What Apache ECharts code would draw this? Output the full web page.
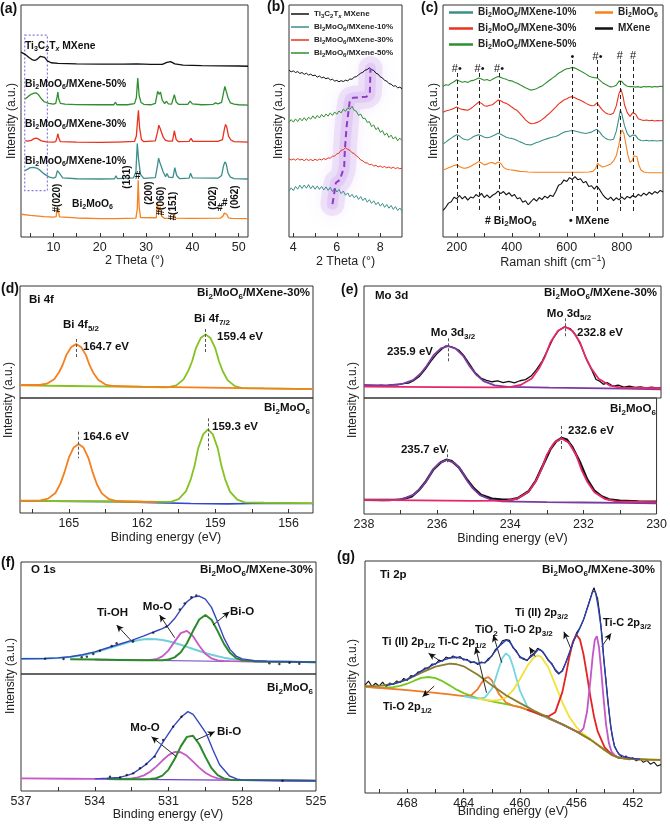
<!DOCTYPE html>
<html>
<head>
<meta charset="utf-8">
<script src="https://cdn.jsdelivr.net/npm/echarts@6.0.0/dist/echarts.min.js"></script>
<style>
  html, body { margin: 0; padding: 0; background: #fff; }
  #chart { width: 670px; height: 824px; }
</style>
</head>
<body>
<div id="chart"></div>
<script>
const FONT = '"Liberation Sans", Arial, Helvetica, sans-serif';

// ---------- (a) XRD patterns (2θ, offset intensity) ----------
const xrdMXene = [[3,79.7],[4,78.6],[4.8,77.3],[5.5,76.3],[6,76.1],[6.6,76.8],[7.2,77.9],[7.6,78.2],[8.1,77.4],[8.7,75.9],[9.5,75.1],[11,74.8],[15,74.6],[20,74.5],[25,74.5],[28,74.6],[31,74.4],[33.5,74.4],[34.5,75.3],[35.3,75.6],[36.2,74.6],[38,74.1],[42,73.9],[46,73.8],[50,73.7],[52,73.6]];
const xrd50 = [[3.9,59.5],[4.5,60.5],[5.2,61.5],[5.8,62.0],[6.3,62.1],[6.8,61.3],[7.3,59.8],[8,58.3],[9,57.6],[10,57.3],[10.5,57.6],[10.8,60.5],[10.95,62.5],[11.15,59.5],[11.5,57.6],[12.5,57.3],[15,57.1],[20,57.0],[23,57],[23.4,58.1],[23.7,57],[26,57],[27.5,57.5],[27.9,60],[28.2,68.5],[28.5,61],[28.9,58],[29.5,57.2],[31,57],[32,57.6],[32.5,62.8],[32.8,61.5],[33.1,62.5],[33.5,59],[34,57.5],[34.4,58.5],[34.8,57.4],[35.5,57.3],[36.1,61.3],[36.5,58.2],[37,57.2],[39,57.2],[39.5,58.6],[40,57.4],[42,57],[44.5,57.2],[45,57.8],[45.5,57.4],[46.3,58],[46.7,62],[47,64.9],[47.3,64.2],[47.7,60],[48.2,57.8],[48.6,58.3],[49,57.3],[50,57],[52,56.8]];
const xrd30 = [[3.9,41.5],[4.5,41.3],[5.2,41.6],[5.8,42.4],[6.3,42.6],[6.8,42.2],[7.4,41.4],[8.5,41],[10,40.9],[10.5,41.1],[10.8,43],[10.95,44.5],[11.15,42.8],[11.5,41.1],[15,40.9],[20,40.8],[23.2,40.9],[23.5,41.6],[23.8,40.9],[27.5,41.2],[27.9,43.5],[28.15,50],[28.35,54.6],[28.6,47],[29,42],[29.5,41.1],[32,41.4],[32.5,45.5],[32.75,48.2],[33.0,47],[33.3,47.3],[33.7,43],[34.2,41.6],[34.5,42.3],[34.9,41.3],[35.7,41.3],[36.1,45.8],[36.5,42],[37,41.1],[39.3,41.2],[39.7,42.5],[40.1,41.2],[44.7,41.2],[45.1,41.8],[45.5,41.2],[46.5,42],[46.9,46.5],[47.15,48.5],[47.4,47.5],[47.8,43.5],[48.3,41.8],[48.6,42.2],[49,41.1],[52,40.9]];
const xrd10 = [[3.9,28.6],[4.3,29.4],[5,29.9],[5.8,30.0],[6.5,29.6],[7.2,28.6],[8,27.2],[9,25.9],[10,25.4],[10.5,25.8],[10.85,28.6],[11.1,29.3],[11.4,27.2],[12,25.5],[15,25.1],[20,25],[23.2,25.1],[23.5,26.4],[23.8,25.2],[27.3,25.5],[27.8,28],[28.1,40.3],[28.4,33],[28.8,27],[29.5,25.3],[32,25.6],[32.5,31.2],[32.7,34],[33.0,32],[33.3,32.6],[33.7,28],[34.2,26],[34.5,27.4],[34.9,25.8],[35.8,25.6],[36.2,29.9],[36.6,26.5],[37.2,25.2],[39.3,25.4],[39.6,27.5],[40,25.5],[44.8,25.4],[45.2,26],[45.6,25.4],[46.3,26.5],[46.7,30.5],[47.0,32.4],[47.3,31.5],[47.7,27.5],[48.2,25.8],[48.6,26.2],[49,25.2],[52,25]];
const xrdBMO = [[3,9.8],[5,9.3],[8,8.8],[10,8.6],[10.6,8.8],[10.85,13.1],[11.05,11.5],[11.3,8.7],[15,8.2],[20,7.9],[23.5,7.9],[27.8,8.1],[28.1,12],[28.3,24.5],[28.5,13],[28.8,8.4],[32.2,8.3],[32.45,14.9],[32.7,10.8],[33.05,13.1],[33.35,9],[34,8],[35.8,8.1],[36.05,10.1],[36.3,8.1],[39.5,8],[46,8.1],[46.6,9],[46.9,10.3],[47.1,10.6],[47.4,9.8],[47.8,8.2],[48.5,8],[52,7.9]];

// ---------- (b) low-angle XRD ----------
const lowX = [3.8,3.9,4.0,4.1,4.2,4.3,4.4,4.5,4.6,4.7,4.8,4.9,5.0,5.1,5.2,5.3,5.4,5.5,5.6,5.7,5.8,5.9,6.0,6.1,6.2,6.3,6.4,6.5,6.6,6.7,6.8,6.9,7.0,7.1,7.2,7.3,7.4,7.5,7.6,7.7,7.8,7.9,8.0,8.1,8.2,8.3,8.4,8.5,8.6,8.7,8.8,8.9,9.0];
const lowMXene = [71.9,71.2,71.6,70.9,71.3,70.5,70.9,70.1,70.6,69.8,70.2,69.5,69.8,68.9,69.4,68.6,68.9,68.2,68.6,67.7,68.0,67.2,67.5,66.9,67.4,67.0,67.6,67.3,68.1,68.0,68.9,69.1,69.9,70.6,71.0,71.9,72.2,72.9,72.1,71.8,70.6,70.2,69.0,68.6,67.5,67.2,66.1,65.9,65.0,65.2,64.3,64.6,63.9];
const low50 = [49.4,50.6,49.5,50.9,49.8,51.2,50.1,51.4,50.2,51.6,50.8,52.2,51.0,52.4,51.3,52.8,51.7,53.0,52.1,53.5,52.4,53.9,52.9,54.3,53.5,55.1,54.2,55.6,55.0,56.3,54.6,54.2,52.4,53.0,51.1,51.2,49.4,49.7,47.6,48.3,46.3,47.2,45.1,45.9,43.9,44.8,42.9,43.9,42.2,43.2,41.5,42.6,41.6];
const low30 = [33.7,33.2,33.6,33.1,33.8,33.2,33.5,32.9,33.6,33.0,33.4,32.9,33.5,33.0,33.6,33.2,33.8,33.4,34.1,34.0,34.8,34.9,35.8,36.1,37.4,37.6,38.5,37.8,37.4,36.3,36.0,34.9,34.3,33.2,32.8,32.0,31.9,31.2,31.3,30.6,30.9,30.2,30.6,30.0,30.4,29.8,30.2,29.6,30.1,29.5,29.9,29.4,29.7];
const low10 = [19.8,21.2,20.0,21.8,20.6,22.3,20.9,22.4,21.0,22.6,20.8,22.1,20.6,22.0,20.5,21.8,20.3,21.6,20.1,21.4,19.6,21.0,19.4,20.5,18.7,19.8,18.0,19.0,17.3,18.4,16.9,17.9,16.2,17.4,15.7,16.8,15.0,16.1,14.5,15.6,13.9,15.0,13.3,14.5,12.8,14.0,12.4,13.6,11.9,13.1,11.4,12.5,11.2];
const shiftPath = [[5.8,14.2],[5.96,23.4],[6.14,24.6],[6.34,30.3],[6.37,37.5],[6.45,47.5],[6.6,59],[6.75,60],[7.37,60.5],[7.52,62],[7.55,72.7]];

// ---------- (c) Raman ----------
const ramMXene = [[150,11.5],[160,12.8],[170,14.6],[180,15.2],[190,17.1],[200,16.5],[210,17.9],[220,16.4],[230,17.5],[240,15.9],[250,17.2],[260,16.8],[270,18.3],[280,17.4],[290,18.8],[300,17.0],[310,18.2],[320,16.9],[330,18.0],[340,18.6],[350,19.8],[360,18.7],[370,19.6],[380,18.2],[390,19.1],[400,17.6],[410,18.3],[420,16.5],[430,16.9],[440,15.0],[450,15.6],[460,13.9],[470,15.2],[480,16.6],[490,15.5],[500,17.0],[510,16.1],[520,17.6],[530,16.8],[540,18.0],[550,17.5],[560,19.6],[570,22.3],[580,22.9],[590,24.6],[600,23.9],[610,25.6],[620,24.8],[630,26.0],[640,24.7],[650,25.1],[660,23.4],[670,23.9],[680,21.8],[690,22.1],[700,20.6],[710,22.0],[720,20.3],[730,18.4],[740,17.0],[750,16.1],[760,17.2],[770,15.7],[780,16.9],[790,16.0],[800,17.3],[810,16.2],[820,17.5],[830,16.8],[840,17.9],[850,17.1],[860,18.4],[870,17.6],[880,18.9],[890,18.0],[900,19.3],[910,18.4],[920,19.6],[930,18.9],[940,20.1],[950,19.4]];
const ram50 = [[150,65.0],[160,65.6],[170,65.4],[180,66.3],[190,66.9],[200,67.8],[210,67.2],[220,66.7],[230,67.0],[240,66.6],[250,67.3],[260,67.5],[270,68.0],[280,68.5],[290,68.1],[300,67.6],[310,67.9],[320,67.3],[330,68.0],[340,68.6],[350,69.2],[360,68.8],[370,68.3],[380,68.0],[390,67.4],[400,67.3],[410,66.7],[420,66.3],[430,65.6],[440,65.0],[450,64.3],[460,63.8],[470,63.3],[480,63.6],[490,63.9],[500,64.6],[510,65.1],[520,66.0],[530,66.9],[540,67.8],[550,68.7],[560,69.5],[570,70.6],[580,71.2],[590,72.0],[600,72.5],[610,72.7],[620,73.1],[630,72.8],[640,72.2],[650,71.6],[660,70.9],[670,70.2],[680,69.4],[690,69.0],[700,68.7],[710,68.6],[720,67.6],[730,66.5],[740,65.8],[750,65.2],[760,64.7],[770,64.9],[780,65.4],[790,67.2],[795,67.8],[800,67.1],[810,65.7],[820,65.0],[830,64.8],[840,64.9],[850,64.6],[860,64.8],[870,64.5],[880,64.9],[890,64.7],[900,64.9],[910,64.6],[920,64.9],[930,64.7],[940,65.0],[950,64.8]];
const ram30 = [[150,53.8],[160,54.3],[170,54.6],[180,55.0],[190,55.5],[200,56.0],[210,55.4],[220,55.0],[230,54.8],[240,54.6],[250,55.3],[260,56.2],[270,57.2],[280,58.2],[290,57.6],[300,56.6],[310,56.4],[320,56.8],[330,57.0],[340,58.0],[350,59.0],[360,58.7],[370,58.0],[380,57.6],[390,56.9],[400,56.0],[410,55.2],[420,54.5],[430,53.2],[440,51.9],[450,50.5],[460,49.5],[470,48.8],[480,48.9],[490,49.3],[500,49.8],[510,50.6],[520,51.5],[530,52.6],[540,53.6],[550,54.8],[560,56.0],[570,57.3],[580,58.2],[590,59.1],[600,59.6],[610,60.2],[620,60.5],[630,60.0],[640,59.4],[650,58.9],[660,58.3],[670,57.6],[680,57.0],[690,56.6],[700,56.7],[710,57.8],[715,57.6],[720,56.2],[730,54.7],[740,53.6],[750,53.0],[760,52.8],[770,53.4],[780,56.5],[790,61.8],[797,63.7],[805,60.4],[810,57.0],[820,53.6],[830,52.0],[840,53.6],[845,54.2],[850,53.0],[860,51.0],[870,50.5],[880,50.2],[890,50.4],[900,50.1],[910,50.3],[920,50.0],[930,50.2],[940,50.1],[950,50.2]];
const ram10 = [[150,40.1],[160,40.9],[170,41.8],[180,42.6],[190,43.4],[200,44.1],[210,43.5],[220,42.5],[230,42.0],[240,41.8],[250,42.4],[260,43.2],[270,43.7],[280,44.1],[290,43.6],[300,43.0],[310,42.8],[320,43.0],[330,43.5],[340,44.1],[350,44.7],[360,44.3],[370,43.6],[380,43.0],[390,42.7],[400,42.5],[410,42.1],[420,41.6],[430,41.0],[440,40.5],[450,40.0],[460,39.8],[470,39.7],[480,40.2],[490,40.7],[500,41.1],[510,41.6],[520,42.0],[530,42.4],[540,42.8],[550,43.1],[560,43.3],[570,43.9],[580,44.6],[590,45.2],[600,45.5],[610,45.7],[620,45.9],[630,45.7],[640,45.4],[650,45.0],[660,44.8],[670,44.6],[680,44.9],[690,45.2],[700,45.9],[710,46.4],[720,45.2],[730,43.6],[740,42.6],[750,42.0],[760,41.8],[770,42.1],[780,45.5],[790,51.5],[795,54.7],[800,53.2],[810,48.0],[820,44.6],[830,43.2],[840,44.0],[845,44.6],[850,43.8],[860,42.2],[870,41.6],[880,41.5],[890,41.7],[900,41.4],[910,41.6],[920,41.5],[930,41.4],[940,41.6],[950,41.5]];
const ramBMO = [[150,28.9],[160,29.3],[170,29.8],[180,30.3],[190,30.8],[200,31.1],[210,30.4],[220,29.8],[230,29.6],[240,29.9],[250,30.4],[260,31.1],[270,31.8],[280,32.5],[290,31.9],[300,31.1],[310,31.4],[320,32.0],[325,32.3],[330,32.1],[340,31.5],[350,32.3],[355,32.6],[360,31.8],[370,30.0],[380,29.3],[390,29.0],[400,28.9],[410,28.7],[420,28.5],[430,28.3],[440,28.2],[450,28.1],[460,28.0],[480,27.9],[500,27.9],[550,27.9],[600,27.9],[650,27.9],[680,28.0],[695,28.3],[705,29.5],[712,31.8],[720,30.9],[730,30.2],[740,30.5],[750,30.9],[760,31.5],[770,32.8],[780,35.0],[790,40.0],[797,45.0],[802,46.1],[808,44.5],[815,40.0],[822,35.5],[830,32.2],[838,32.9],[845,35.0],[850,35.3],[855,34.6],[862,31.0],[870,28.9],[880,28.0],[890,27.8],[900,27.7],[920,27.7],[950,27.7]];

// ---------- (d) Bi 4f ----------
const bi30_f52 = [[167,11.6],[166.2,11.6],[165.9,12.8],[165.6,16.8],[165.4,23],[165.25,29.7],[165.1,38.5],[164.9,45.6],[164.7,48.1],[164.5,45.5],[164.3,38.3],[164.15,29.3],[164.0,22.6],[163.8,16.2],[163.5,12.0],[163.2,10.7],[162,10.1],[160,9.5],[158,8.9],[155,8.0]];
const bi30_f72 = [[167,11.3],[165,10.7],[163,10.1],[161,9.5],[160.9,9.8],[160.6,11.3],[160.3,16.6],[160.1,24.7],[159.95,32.8],[159.8,44.3],[159.6,53.5],[159.4,56.8],[159.2,53.5],[159.0,44.3],[158.85,32.8],[158.7,24.1],[158.5,16.0],[158.2,10.6],[157.9,8.9],[157,8.6],[155,8.0]];
const bi0_f52 = [[167,10.7],[166.2,10.8],[165.85,12.5],[165.55,17.4],[165.35,25.3],[165.18,35.3],[165.0,48.1],[164.8,57],[164.6,60],[164.4,56.9],[164.2,48],[164.02,35.1],[163.85,25],[163.65,17.1],[163.35,12],[163.0,10.2],[162,9.8],[161.4,9.7]];
const bi0_f72 = [[167,10.6],[163,10.0],[161,9.62],[160.8,9.9],[160.5,12],[160.2,19],[160.0,29.7],[159.85,41.2],[159.7,56.4],[159.5,68.4],[159.3,72.8],[159.1,68.3],[158.9,56.2],[158.75,41],[158.6,29.5],[158.4,18.6],[158.1,11.6],[157.8,9.3],[157,8.9],[155,8.5]];
const bi0_bg = [[167,10.4],[163,9.9],[161.5,9.0],[160,8.3],[158.5,7.9],[157.5,8.2],[155,8.2]];

// ---------- (e) Mo 3d ----------
const mo30_raw = [[238,10.5],[237.85,10.9],[237.7,10.6],[237.55,11.4],[237.4,11.1],[237.25,12.0],[237.1,11.7],[236.95,12.9],[236.8,13.3],[236.65,15.8],[236.5,19.5],[236.35,25.5],[236.2,32.8],[236.05,39],[235.9,43.8],[235.8,46.5],[235.7,46],[235.6,45.2],[235.45,42.8],[235.3,37.5],[235.15,30],[235.0,22.5],[234.85,17.8],[234.7,15.8],[234.55,14.5],[234.4,15.2],[234.25,13.8],[234.1,14.8],[233.95,13.6],[233.8,15.4],[233.65,16.4],[233.5,19.6],[233.35,25.5],[233.2,33],[233.05,43],[232.9,53.5],[232.75,60.5],[232.6,63.5],[232.45,62],[232.3,56.5],[232.15,46.5],[232.0,34],[231.85,24],[231.75,16.5],[231.65,15],[231.55,12.2],[231.45,13.8],[231.3,10.6],[231.15,11.5],[231.0,9.8],[230.85,10.6],[230.7,9.5],[230.55,9.9],[230.4,9.1],[230.25,9.6],[230.1,8.9],[230,9.3]];
const mo30_d32 = [[238,11.6],[237.5,11.36],[237.3,11.5],[236.98,12.5],[236.68,16.0],[236.48,21.7],[236.31,28.8],[236.13,38.0],[235.93,44.3],[235.73,46.4],[235.53,44.1],[235.33,37.6],[235.15,28.2],[234.98,20.9],[234.78,15.0],[234.48,11.3],[234.13,9.9],[233,9.2],[232,8.75],[231,8.3],[230,7.8]];
const mo30_d52 = [[238,10.1],[236,9.75],[234.5,9.5],[234.08,9.7],[233.78,11.6],[233.48,17.5],[233.28,26.8],[233.13,36.5],[232.98,49.6],[232.78,59.9],[232.58,63.7],[232.38,59.8],[232.18,49.5],[232.03,36.4],[231.88,26.5],[231.68,17.2],[231.38,11.1],[231.08,9.2],[230,8.7]];
const mo0_raw = [[238,12.2],[237.5,12.1],[237,12.4],[236.7,15],[236.5,20.5],[236.3,28.5],[236.1,38.5],[235.9,44.5],[235.75,46.8],[235.6,45.5],[235.4,40],[235.2,30.5],[235.0,22.3],[234.8,16.5],[234.5,13.2],[234.2,12.4],[234,12.3],[233.8,13.6],[233.5,19.5],[233.3,28.8],[233.1,42.5],[232.9,56],[232.75,62.5],[232.6,65.6],[232.45,64],[232.3,57.5],[232.1,45],[231.9,30],[231.7,20],[231.5,15.2],[231.3,12.6],[231,11.5],[230.5,10.9],[230,10.5]];
const mo0_d32 = [[238,12.1],[237.3,11.85],[237.23,12.0],[236.93,13.1],[236.63,16.9],[236.43,22.8],[236.28,29.1],[236.13,37.5],[235.93,44.2],[235.73,46.6],[235.53,44.0],[235.33,37.2],[235.18,28.7],[235.03,22.3],[234.83,16.3],[234.53,12.3],[234.23,10.9],[233,10.3],[232,9.9],[231,9.55],[230,9.2]];
const mo0_d52 = [[238,12.1],[235,11.4],[234.1,11.5],[233.8,13.3],[233.5,19.2],[233.3,28.4],[233.15,38.2],[233.0,51.2],[232.8,61.5],[232.6,65.2],[232.4,61.4],[232.2,51.0],[232.05,37.9],[231.9,28.1],[231.7,18.8],[231.4,12.8],[231.1,10.8],[230,10.3]];

// ---------- (f) O 1s ----------
const o30_tioh = [[537,13.65],[536,13.8],[535.5,14.2],[535,15.1],[534.5,16.7],[534,19.2],[533.5,22.4],[533,25.9],[532.5,29.1],[532,31],[531.75,31.3],[531.5,31],[531.25,30.4],[531,29.2],[530.75,27.7],[530.5,26.1],[530.25,24.2],[530,22.3],[529.75,20.5],[529.5,18.7],[529.25,17.2],[529,15.8],[528.75,14.6],[528.5,13.7],[528.25,13],[528,12.4],[527.5,11.7],[527,11.3],[526,10.9],[525,10.6]];
const o30_moo = [[534,12.85],[533,12.6],[532.5,12.48],[532,12.4],[531.75,12.5],[531.5,13.2],[531.25,15.7],[531,20.9],[530.75,28.9],[530.5,36.5],[530.25,38.5],[530,33.7],[529.75,25.2],[529.5,18],[529.25,13.9],[529,12.2],[528.75,11.6],[528.5,11.5],[528,11.35],[527,11.1],[526,10.85],[525,10.6]];
const o30_bio = [[535,13.1],[534,12.85],[533,12.6],[532,12.35],[531.5,12.27],[531.25,12.36],[531,13],[530.75,14.84],[530.5,19.4],[530.25,27.5],[530,38.55],[529.75,48.6],[529.5,52.7],[529.25,48.5],[529,38.3],[528.75,27.1],[528.5,18.9],[528.25,14.2],[528,12.25],[527.5,11.27],[527,11.1],[526,10.85],[525,10.6]];
const o30_env = [[537,13.6],[536,13.9],[535.5,14.4],[535,15.4],[534.5,17.2],[534,19.8],[533.5,23.2],[533,26.6],[532.5,30.0],[532,34.0],[531.75,36.3],[531.5,38.4],[531.25,40.5],[531,43.5],[530.75,49.5],[530.5,57.5],[530.25,64.5],[530,68.6],[529.75,69.6],[529.5,66.8],[529.25,59.5],[529,46.5],[528.75,32.5],[528.5,22],[528.25,16],[528,13.5],[527.5,11.8],[527,11.3],[526,10.9],[525,10.6]];
const o30_bg = [[533,12.5],[529,11.4],[525,10.3]];
const o30_raw = [[536.02,13.7],[535.27,13.4],[534.53,14.9],[534.32,15.5],[534.06,17.9],[533.79,20.8],[533.31,25],[533.11,27.4],[532.44,29.2],[531.62,36.9],[531.08,42.3],[530.54,57.7],[530.34,63.1],[530.07,68.5],[529.87,70.2],[526.9,9.5],[526.49,8.9],[526.08,10.1],[525.68,9.2]];
const o0_moo = [[537,10.8],[535,10.47],[534,10.3],[533.5,10.22],[533,10.2],[532.5,10.68],[532.25,11.56],[532,13.37],[531.75,16.42],[531.5,20.88],[531.25,26.03],[531,30.7],[530.75,33.35],[530.5,33.12],[530.25,30.07],[530,25.13],[529.75,19.98],[529.5,15.65],[529.25,12.6],[529,10.87],[528.75,9.98],[528.5,9.57],[528.25,9.38],[528,9.31],[527.5,9.22],[527,9.13],[526,8.97],[525,8.8]];
const o0_bio = [[533.5,10.22],[533,10.13],[532.5,10.05],[532,10.02],[531.75,10.17],[531.5,10.88],[531.25,13.13],[531,18.3],[530.75,27.25],[530.5,38.12],[530.25,46.27],[530,47.13],[529.75,39.98],[529.5,29.15],[529.25,19.5],[529,13.53],[528.75,10.72],[528.5,9.71],[528.25,9.4],[528,9.31],[527.5,9.22],[527,9.13],[526,8.97],[525,8.8]];
const o0_env = [[534,10.4],[533.5,10.9],[533,11.6],[532.7,13.2],[532.44,15.1],[532.16,19],[531.9,23],[531.56,30],[531.22,42],[530.81,55],[530.47,63.5],[530.21,67.8],[530,65.5],[529.75,58],[529.46,49],[529.19,35],[528.92,22.5],[528.52,12.8],[528.2,10.2],[528,9.5],[527,9.1],[526,8.95],[525,8.8]];
const o0_bg = [[533.5,10.1],[525,8.6]];
const o0_raw = [[533.38,12.2],[532.97,11.6],[532.7,13.7],[532.44,15.1],[532.16,19.4],[531.9,23.1],[531.56,29.4],[531.22,43.6],[530.81,55],[530.47,63.5],[526.36,8.8]];

// ---------- (g) Ti 2p ----------
const ti_raw = [[471,46.5],[470.75,48.2],[470.5,45.9],[470.25,47.3],[470,46.1],[469.75,47.8],[469.5,45.8],[469.25,47.4],[469,46.8],[468.75,48.3],[468.5,47.6],[468.25,49.4],[468,48.5],[467.75,50.6],[467.5,50.2],[467.25,52.1],[467,52.3],[466.75,53.9],[466.5,53.8],[466.25,55.6],[466,55.5],[465.75,57.3],[465.5,56.8],[465.25,58.6],[465,58.0],[464.75,59.1],[464.5,58.2],[464.25,58.8],[464,57.3],[463.75,57.6],[463.5,56.1],[463.25,56.6],[463,55.4],[462.75,56.5],[462.5,56.0],[462.25,57.9],[462,59.0],[461.75,61.9],[461.5,63.0],[461.25,65.6],[461,66.1],[460.75,65.8],[460.5,62.6],[460.25,61.2],[460,58.3],[459.75,58.1],[459.5,57.0],[459.25,59.2],[459,60.1],[458.75,62.4],[458.5,61.5],[458.25,59.6],[458,57.1],[457.75,55.9],[457.5,52.8],[457.25,51.2],[457,52.9],[456.75,56.3],[456.5,60.1],[456.25,64.7],[456,68.9],[455.75,71.2],[455.5,74.6],[455.25,79.5],[455,84.2],[454.85,87.1],[454.75,88.5],[454.65,86.3],[454.5,83.9],[454.35,77.2],[454.2,68.5],[454.05,57.4],[453.9,48.6],[453.75,38.9],[453.6,30.2],[453.45,24.1],[453.3,20.4],[453.1,17.8],[452.9,16.2],[452.7,15.1],[452.5,16.0],[452.25,14.3],[452,15.2],[451.75,13.9],[451.5,14.8],[451.25,13.2],[451,14.1],[450.75,12.4],[450.5,13.3],[450.25,11.6],[450,12.3]];
const ti_env = [[469.5,46.4],[469,47.0],[468.5,47.9],[468,49.0],[467.5,50.7],[467,52.6],[466.5,54.2],[466,55.8],[465.5,57.2],[465,58.2],[464.5,58.5],[464,57.8],[463.5,56.6],[463,55.9],[462.5,56.3],[462.25,57.3],[462,59.2],[461.5,63.2],[461,65.9],[460.75,65.2],[460.5,63.0],[460.25,60.7],[460,58.8],[459.75,57.6],[459.5,57.3],[459,59.8],[458.7,61.9],[458.4,61.0],[458,57.5],[457.75,55.5],[457.5,53.3],[457.25,51.6],[457,52.5],[456.77,55.9],[456.5,60.5],[456.17,65.9],[455.8,70.5],[455.46,75.3],[455.15,81.0],[454.85,86.8],[454.65,86.8],[454.45,80.0],[454.26,71.7],[454.05,57.0],[453.78,40.1],[453.55,28.0],[453.3,20.0],[453,16.8],[452.59,15.6],[452,14.9],[451.5,14.6]];
const ti_o12 = [[471,45.8],[470,45.4],[469,45.6],[468.5,46.15],[468,47.1],[467.5,48.4],[467,49.6],[466.5,50.0],[466,49.5],[465.5,48.2],[465,46.4],[464.5,44.55],[464,43.04],[463,40.85],[462,39.5],[461,38.3],[460,37.0],[459,34.8],[458,32.3],[457,29.6],[456,26.5],[455,23.0],[454,18.5],[453,15.2],[452,14.6],[450,14.3]];
const ti_ii12 = [[471,46.1],[470,46.2],[469,47.05],[468,48.95],[467,51.86],[466,54.5],[465,55.74],[464.5,55.5],[464,54.6],[463,51.0],[462,46.4],[461,42.1],[460,38.74],[459,35.46],[458,32.5],[457,29.65],[456,26.5],[455,23.0],[454.5,20.8],[454,18.5],[453.5,16.4],[453,15.2],[452,14.6],[451,14.4],[450,14.3]];
const ti_c12 = [[471,45.8],[468,44.3],[466,43.2],[465,42.5],[464,41.77],[463.5,41.97],[463,44.8],[462.75,47.25],[462.5,49.39],[462.25,49.98],[462,48.5],[461.75,45.7],[461.5,42.7],[461,38.99],[460.5,37.7],[460,37.0],[459,34.8],[458,32.3],[457,29.6],[456,26.5],[455,23.0],[454,18.5],[453,15.2],[452,14.6],[450,14.3]];
const ti_tio2 = [[464,41.7],[463.5,41.15],[463,40.7],[462.5,41.1],[462,44.95],[461.75,49.0],[461.5,53.9],[461.25,58.2],[461,60.2],[460.75,58.9],[460.5,54.65],[460.25,49.1],[460,44.0],[459.5,37.44],[459,34.98],[458.5,33.55],[458,32.3],[457,29.6]];
const ti_o32 = [[463,40.6],[462,39.83],[461.5,39.98],[461,41.22],[460.5,44.2],[460,49.15],[459.5,54.6],[459,58.6],[458.75,59.2],[458.5,58.65],[458,54.2],[457.5,46.75],[457,39.1],[456.5,32.75],[456,28.43],[455.5,25.4],[455,23.18],[454.5,20.85],[454,18.5],[453.5,16.4],[453,15.2]];
const ti_ii32 = [[459.5,35.9],[459,34.8],[458.5,33.62],[458,32.98],[457.5,34.85],[457,43.5],[456.75,50.7],[456.5,58.75],[456.25,65.26],[456,68.2],[455.75,66.2],[455.5,59.85],[455.25,50.8],[455,41.2],[454.75,32.9],[454.5,26.66],[454,19.67],[453.5,16.54],[453,15.2],[452.5,14.9],[452,14.6],[451.5,14.5]];
const ti_c32 = [[458,32.3],[457,29.6],[456.5,28.05],[456,26.58],[455.75,26.2],[455.5,27.85],[455.25,34.9],[455,49.1],[454.85,58.8],[454.7,65.9],[454.55,67.6],[454.4,62.9],[454.25,53.4],[454.1,42.4],[453.9,29.6],[453.7,21.6],[453.5,17.7],[453.25,16.0],[453,15.2],[452.5,14.9]];

// ---------- styling helpers ----------
const COL = { black:'#111', green:'#2f8f2f', red:'#e8321e', teal:'#3c8f8c', orange:'#f5821f' };

function rich(sz, bold, color) {
  const w = bold ? 'bold' : 'normal';
  const c = color || '#111';
  const sub = Math.round(sz * 0.72);
  return {
    s:  { fontSize: sub, fontWeight: w, fontFamily: FONT, fill: c, color: c, verticalAlign: 'bottom', lineHeight: sub + 1 },
    si: { fontSize: sub, fontWeight: w, fontStyle: 'italic', fontFamily: FONT, fill: c, color: c, verticalAlign: 'bottom', lineHeight: sub + 1 },
    p:  { fontSize: sub, fontWeight: w, fontFamily: FONT, fill: c, color: c, verticalAlign: 'top', lineHeight: sub + 1 }
  };
}

function T(x, y, text, o) {
  o = o || {};
  const sz = o.size || 11.5;
  const bold = o.bold !== false;
  const c = o.color || '#111';
  return {
    type: 'text', x: x, y: y, rotation: o.rot || 0, silent: true, z: 100,
    style: {
      text: text, fill: c, fontSize: sz, fontWeight: bold ? 'bold' : 'normal', fontFamily: FONT,
      lineHeight: Math.round(sz * 1.35),
      align: o.align || 'left', textAlign: o.align || 'left',
      verticalAlign: 'middle', textVerticalAlign: 'middle',
      rich: rich(sz, bold, c)
    }
  };
}

function pairs(xs, ys) { return xs.map((x, i) => [x, ys[i]]); }

function L(xi, name, data, color, width, z, extra) {
  return Object.assign({
    type: 'line', name: name, xAxisIndex: xi, yAxisIndex: xi, data: data,
    symbol: 'none', showSymbol: false, silent: true,
    lineStyle: { color: color, width: width }, itemStyle: { color: color }, z: z || 2
  }, extra || {});
}

function ML(segs, line, arrow) {
  return {
    silent: true, symbol: arrow ? ['none', 'arrow'] : ['none', 'none'], symbolSize: [5, 7],
    label: { show: false }, emphasis: { disabled: true },
    lineStyle: Object.assign({ color: '#333', width: 1, type: 'solid' }, line),
    data: segs.map(s => [{ coord: s[0] }, { coord: s[1] }])
  };
}

// grids: a, b, c, d-top, d-bottom, e-top, e-bottom, f-top, f-bottom, g
const gridBoxes = [
  { left: 21,  top: 5,   width: 227, height: 232 },
  { left: 289, top: 5,   width: 113, height: 232 },
  { left: 443, top: 5,   width: 220, height: 232 },
  { left: 20,  top: 286, width: 293, height: 112 },
  { left: 20,  top: 398, width: 293, height: 115 },
  { left: 364, top: 286, width: 297, height: 112 },
  { left: 364, top: 398, width: 297, height: 116 },
  { left: 21,  top: 562, width: 295, height: 112 },
  { left: 21,  top: 674, width: 295, height: 117 },
  { left: 365, top: 561, width: 296, height: 232 }
];

const axisSpec = [
  { min: 3,   max: 52,  labels: [10,20,30,40,50], ticks: [5,10,15,20,25,30,35,40,45,50] },
  { min: 3.8, max: 9,   labels: [4,6,8], ticks: [4,5,6,7,8] },
  { min: 150, max: 950, labels: [200,400,600,800], ticks: [200,300,400,500,600,700,800,900] },
  { min: 155, max: 167, inverse: true },
  { min: 155, max: 167, inverse: true, labels: [165,162,159,156], ticks: [166.5,165,163.5,162,160.5,159,157.5,156] },
  { min: 230, max: 238, inverse: true },
  { min: 230, max: 238, inverse: true, labels: [238,236,234,232,230], ticks: [237,236,235,234,233,232,231] },
  { min: 525, max: 537, inverse: true },
  { min: 525, max: 537, inverse: true, labels: [537,534,531,528,525], ticks: [535.5,534,532.5,531,529.5,528,526.5] },
  { min: 450, max: 471, inverse: true, labels: [468,464,460,456,452], ticks: [470,468,466,464,462,460,458,456,454,452] }
];

const xAxes = axisSpec.map((a, i) => ({
  type: 'value', gridIndex: i, min: a.min, max: a.max, inverse: !!a.inverse,
  splitLine: { show: false }, axisLine: { show: false },
  axisTick: a.labels ? { show: true, inside: true, length: 4, customValues: a.ticks, lineStyle: { color: '#333', width: 1 } } : { show: false },
  axisLabel: a.labels ? { show: true, customValues: a.labels, margin: 4, fontSize: 12.5, color: '#222', fontFamily: FONT } : { show: false }
}));
const yAxes = axisSpec.map((a, i) => ({ type: 'value', gridIndex: i, min: 0, max: 100, show: false }));

// ---------- series ----------
const series = [];
// (a)
series.push(L(0, 'a-mx', xrdMXene, COL.black, 1.3));
series.push(L(0, 'a-50', xrd50, COL.green, 1.3, 2, {
  markArea: { silent: true, itemStyle: { color: 'rgba(0,0,0,0)', borderColor: '#8a7be0', borderWidth: 1.2, borderType: [2, 2] },
    data: [[{ coord: [3.8, 87] }, { coord: [8.7, 20] }]] }
}));
series.push(L(0, 'a-30', xrd30, COL.red, 1.3));
series.push(L(0, 'a-10', xrd10, COL.teal, 1.3));
series.push(L(0, 'a-bmo', xrdBMO, COL.orange, 1.3));

// (b) shaded trail behind the dashed shift guide
series.push(L(1, 'b-glow2', shiftPath, 'rgba(205,170,238,0.28)', 24, 1, {
  smooth: 0.4,
  lineStyle: { color: 'rgba(205,170,238,0.28)', width: 24, cap: 'round', join: 'round', shadowBlur: 16, shadowColor: 'rgba(200,160,238,0.6)' }
}));
series.push(L(1, 'b-glow', shiftPath, 'rgba(190,135,230,0.22)', 11, 1, {
  smooth: 0.4,
  lineStyle: { color: 'rgba(190,135,230,0.22)', width: 11, cap: 'round', join: 'round' }
}));
series.push(L(1, 'b-mx', pairs(lowX, lowMXene), COL.black, 1));
series.push(L(1, 'b-10', pairs(lowX, low10), COL.teal, 1));
series.push(L(1, 'b-30', pairs(lowX, low30), COL.red, 1));
series.push(L(1, 'b-50', pairs(lowX, low50), COL.green, 1));
series.push(L(1, 'b-path', shiftPath, '#8d3cc4', 2, 5, { lineStyle: { color: '#8d3cc4', width: 2, type: [6, 4] } }));

// (c)
series.push(L(2, 'c-mx', ramMXene, COL.black, 1.1, 2, {
  markLine: ML([
    [[200, 70.7], [200, 10.3]], [[283, 70.7], [283, 10.3]], [[354, 70.7], [354, 10.3]],
    [[621, 76.3], [621, 10.3]], [[712, 76.3], [712, 10.3]], [[793, 76.3], [793, 10.3]], [[841, 76.3], [841, 10.3]]
  ], { color: '#222', width: 1, type: [4, 3] })
}));
series.push(L(2, 'c-bmo', ramBMO, COL.orange, 1.1));
series.push(L(2, 'c-10', ram10, COL.teal, 1.1));
series.push(L(2, 'c-30', ram30, COL.red, 1.1));
series.push(L(2, 'c-50', ram50, COL.green, 1.1));

// (d)
series.push(L(3, 'd-72', bi30_f72, '#84c21f', 1.8));
series.push(L(3, 'd-52', bi30_f52, '#f4801e', 1.8, 3, {
  markLine: ML([[[164.7, 52.7], [164.7, 35.7]], [[159.4, 61.6], [159.4, 41]]], { color: '#555', width: 1, type: [3, 2] })
}));
series.push(L(4, 'd0-bg', bi0_bg, '#2f49c8', 1.6, 1));
series.push(L(4, 'd0-72', bi0_f72, '#84c21f', 1.8));
series.push(L(4, 'd0-52', bi0_f52, '#f4801e', 1.8, 3, {
  markLine: ML([[[164.6, 70.7], [164.6, 47.6]], [[159.3, 82.3], [159.3, 54.8]]], { color: '#555', width: 1, type: [3, 2] })
}));

// (e)
series.push(L(5, 'e-raw', mo30_raw, '#111', 1.3, 1));
series.push(L(5, 'e-32', mo30_d32, '#7a3a9e', 1.8, 2));
series.push(L(5, 'e-52', mo30_d52, '#e8266a', 1.8, 3, {
  markLine: ML([[[232.58, 71.2], [232.58, 53.3]], [[235.73, 53.3], [235.73, 32.4]]], { color: '#555', width: 1, type: [3, 2] })
}));
series.push(L(6, 'e0-raw', mo0_raw, '#111', 2.4, 1));
series.push(L(6, 'e0-32', mo0_d32, '#7a3a9e', 1.8, 2));
series.push(L(6, 'e0-52', mo0_d52, '#e8266a', 1.8, 3, {
  markLine: ML([[[232.6, 75.9], [232.6, 55.8]], [[235.73, 55.8], [235.73, 43.7]]], { color: '#555', width: 1, type: [3, 2] })
}));

// (f)
const arrowStyle = { color: '#111', width: 0.9 };
series.push(L(7, 'f-tioh', o30_tioh, '#6fd0d8', 2, 2));
series.push(L(7, 'f-moo', o30_moo, '#c659c6', 1.8, 3));
series.push(L(7, 'f-bio', o30_bio, '#2b8b2b', 2, 4));
series.push(L(7, 'f-bg', o30_bg, '#7040c0', 1.2, 1));
series.push(L(7, 'f-env', o30_env, '#3548c0', 1.4, 5, {
  markLine: ML([
    [[532.44, 27.9], [533.11, 43.75]],
    [[530.75, 32.4], [531.36, 52.7]],
    [[529.19, 43.75], [528.52, 55.6]]
  ], arrowStyle, true)
}));
series.push({ type: 'scatter', name: 'f-raw', xAxisIndex: 7, yAxisIndex: 7, data: o30_raw, symbol: 'circle', symbolSize: 2.4, itemStyle: { color: '#111' }, silent: true, z: 6 });
series.push(L(8, 'f0-bg', o0_bg, '#7040c0', 1.2, 1));
series.push(L(8, 'f0-moo', o0_moo, '#c659c6', 1.8, 2));
series.push(L(8, 'f0-bio', o0_bio, '#2b8b2b', 2, 3));
series.push(L(8, 'f0-env', o0_env, '#3548c0', 1.4, 5, {
  markLine: ML([
    [[530.68, 29.3], [531.69, 46.4]],
    [[529.87, 43.6], [529.12, 50.7]]
  ], arrowStyle, true)
}));
series.push({ type: 'scatter', name: 'f0-raw', xAxisIndex: 8, yAxisIndex: 8, data: o0_raw, symbol: 'circle', symbolSize: 2.4, itemStyle: { color: '#111' }, silent: true, z: 6 });

// (g)
series.push(L(9, 'g-raw', ti_raw, '#111', 1.1, 1));
series.push(L(9, 'g-o12', ti_o12, '#76c71f', 1.8, 2));
series.push(L(9, 'g-c12', ti_c12, '#f07a2a', 1.8, 2));
series.push(L(9, 'g-tio2', ti_tio2, '#72d6e2', 1.8, 3));
series.push(L(9, 'g-o32', ti_o32, '#f2e235', 1.8, 3));
series.push(L(9, 'g-ii32', ti_ii32, '#e42222', 1.8, 4));
series.push(L(9, 'g-c32', ti_c32, '#c257c9', 1.8, 4));
series.push(L(9, 'g-ii12', ti_ii12, '#8c7c2e', 1.8, 4));
series.push(L(9, 'g-env', ti_env, '#2b3fae', 1.4, 5, {
  markLine: ML([
    [[465.61, 56.6], [466.49, 60.2]],
    [[462.38, 43.2], [463.15, 62.8]],
    [[461.3, 56.2], [461.9, 68.1]],
    [[458.92, 58.8], [459.33, 62.8]],
    [[456.41, 62.4], [456.89, 69.5]],
    [[454.21, 63.1], [453.54, 68.8]],
    [[466.09, 46.1], [466.92, 41.5]]
  ], arrowStyle, true)
}));

// ---------- legends ----------
const LEG = {
  'b-mx': 'Ti{s|3}C{s|2}T{si|x} MXene',
  'b-10': 'Bi{s|2}MoO{s|6}/MXene-10%',
  'b-30': 'Bi{s|2}MoO{s|6}/MXene-30%',
  'b-50': 'Bi{s|2}MoO{s|6}/MXene-50%',
  'c-10': 'Bi{s|2}MoO{s|6}/MXene-10%',
  'c-30': 'Bi{s|2}MoO{s|6}/MXene-30%',
  'c-50': 'Bi{s|2}MoO{s|6}/MXene-50%',
  'c-bmo': 'Bi{s|2}MoO{s|6}',
  'c-mx': 'MXene'
};
function legendBox(names, left, top, sz, w, h, gap) {
  return {
    data: names, left: left, top: top, orient: 'vertical', selectedMode: false,
    icon: 'rect', itemWidth: w, itemHeight: h, itemGap: gap, padding: 0,
    formatter: n => LEG[n],
    textStyle: { fontSize: sz, fontWeight: 'bold', fontFamily: FONT, color: '#222', lineHeight: Math.round(sz * 1.3), rich: rich(sz, true, '#222') }
  };
}

// ---------- texts ----------
const BMO = 'Bi{s|2}MoO{s|6}';
const texts = [
  T(0, 9, '(a)', { size: 14 }), T(267, 7, '(b)', { size: 14 }), T(421, 8, '(c)', { size: 14 }),
  T(1, 289, '(d)', { size: 14 }), T(341, 290, '(e)', { size: 14 }), T(1, 563, '(f)', { size: 14 }), T(337, 557, '(g)', { size: 14 }),
  // axis titles
  T(12, 121, 'Intensity (a.u.)', { size: 12, bold: false, rot: Math.PI / 2, align: 'center', color: '#222' }),
  T(279, 121, 'Intensity (a.u.)', { size: 12, bold: false, rot: Math.PI / 2, align: 'center', color: '#222' }),
  T(434, 121, 'Intensity (a.u.)', { size: 12, bold: false, rot: Math.PI / 2, align: 'center', color: '#222' }),
  T(9, 400, 'Intensity (a.u.)', { size: 12, bold: false, rot: Math.PI / 2, align: 'center', color: '#222' }),
  T(353, 400, 'Intensity (a.u.)', { size: 12, bold: false, rot: Math.PI / 2, align: 'center', color: '#222' }),
  T(11, 676, 'Intensity (a.u.)', { size: 12, bold: false, rot: Math.PI / 2, align: 'center', color: '#222' }),
  T(353, 677, 'Intensity (a.u.)', { size: 12, bold: false, rot: Math.PI / 2, align: 'center', color: '#222' }),
  T(134.5, 261, '2 Theta (°)', { size: 12.5, bold: false, align: 'center', color: '#222' }),
  T(345.5, 262, '2 Theta (°)', { size: 12.5, bold: false, align: 'center', color: '#222' }),
  T(553, 263, 'Raman shift (cm{p|−1})', { size: 12.5, bold: false, align: 'center', color: '#222' }),
  T(166, 538, 'Binding energy (eV)', { size: 12.5, bold: false, align: 'center', color: '#222' }),
  T(512.5, 538.5, 'Binding energy (eV)', { size: 12.5, bold: false, align: 'center', color: '#222' }),
  T(168, 815, 'Binding energy (eV)', { size: 12.5, bold: false, align: 'center', color: '#222' }),
  T(513, 812, 'Binding energy (eV)', { size: 12.5, bold: false, align: 'center', color: '#222' }),
  // (a)
  T(25, 46, 'Ti{s|3}C{s|2}T{si|x} MXene', { size: 10.3 }),
  T(25, 84, BMO + '/MXene-50%', { size: 10.3 }),
  T(25, 124, BMO + '/MXene-30%', { size: 10.3 }),
  T(25, 161, BMO + '/MXene-10%', { size: 10.3 }),
  T(72, 204, BMO, { size: 10.3 }),
  T(57.3, 198, '#(020)', { size: 10, rot: Math.PI / 2, align: 'center' }),
  T(127.7, 177, '(131)', { size: 10, rot: Math.PI / 2, align: 'center' }),
  T(137.7, 176, '#', { size: 10, align: 'center' }),
  T(149, 193, '(200)', { size: 10, rot: Math.PI / 2, align: 'center' }),
  T(161, 201, '#(060)', { size: 10, rot: Math.PI / 2, align: 'center' }),
  T(173.3, 206, '#(151)', { size: 10, rot: Math.PI / 2, align: 'center' }),
  T(213.3, 198, '(202)', { size: 10, rot: Math.PI / 2, align: 'center' }),
  T(220, 208, '#', { size: 10, align: 'center' }),
  T(224.7, 203, '#', { size: 10, align: 'center' }),
  T(235, 197, '(062)', { size: 10, rot: Math.PI / 2, align: 'center' }),
  // (c)
  T(456.75, 69, '#•', { size: 11, bold: false, align: 'center' }),
  T(479.6, 69, '#•', { size: 11, bold: false, align: 'center' }),
  T(499.1, 69, '#•', { size: 11, bold: false, align: 'center' }),
  T(572.5, 57, '•', { size: 11, bold: false, align: 'center' }),
  T(597.6, 57, '#•', { size: 11, bold: false, align: 'center' }),
  T(619.8, 56, '#', { size: 11, bold: false, align: 'center' }),
  T(633, 56, '#', { size: 11, bold: false, align: 'center' }),
  T(485, 221, '# ' + BMO, { size: 10.5 }),
  T(569, 221, '• MXene', { size: 10.5 }),
  // (d)
  T(29, 300, 'Bi 4f'), T(310, 293, BMO + '/MXene-30%', { align: 'right' }),
  T(81, 325, 'Bi 4f{s|5/2}', { align: 'center' }), T(83, 347, '164.7 eV'),
  T(212, 319, 'Bi 4f{s|7/2}', { align: 'center' }), T(217, 337, '159.4 eV'),
  T(310, 408, BMO, { align: 'right' }), T(83, 437, '164.6 eV'), T(212, 427, '159.3 eV'),
  // (e)
  T(375, 296, 'Mo 3d'), T(657, 293, BMO + '/MXene-30%', { align: 'right' }),
  T(569, 314, 'Mo 3d{s|5/2}', { align: 'center' }), T(577, 333, '232.8 eV'),
  T(453, 333, 'Mo 3d{s|3/2}', { align: 'center' }), T(433, 352, '235.9 eV', { align: 'right' }),
  T(656, 409, BMO, { align: 'right' }), T(568, 431, '232.6 eV'), T(447, 450, '235.7 eV', { align: 'right' }),
  // (f)
  T(31, 570, 'O 1s'), T(313, 570, BMO + '/MXene-30%', { align: 'right' }),
  T(112.5, 613, 'Ti-OH', { align: 'center' }), T(157.5, 607, 'Mo-O', { align: 'center' }), T(230, 612, 'Bi-O'),
  T(313, 688, BMO, { align: 'right' }),
  T(145, 728, 'Mo-O', { align: 'center' }), T(217, 732, 'Bi-O'),
  // (g)
  T(380, 575, 'Ti 2p'), T(655, 570, BMO + '/MXene-30%', { align: 'right' }),
  T(515, 613, 'Ti (II) 2p{s|3/2}', { size: 11 }), T(603, 623, 'Ti-C 2p{s|3/2}', { size: 11 }),
  T(475, 630, 'TiO{s|2}', { size: 11 }), T(504, 630, 'Ti-O 2p{s|3/2}', { size: 11 }),
  T(382, 642, 'Ti (II) 2p{s|1/2}', { size: 11 }), T(438, 642, 'Ti-C 2p{s|1/2}', { size: 11 }),
  T(383, 707, 'Ti-O 2p{s|1/2}', { size: 11 })
];

const option = {
  animation: false,
  backgroundColor: '#fff',
  grid: gridBoxes.map(g => Object.assign({ show: true, borderColor: '#333', borderWidth: 1, backgroundColor: 'rgba(0,0,0,0)' }, g)),
  xAxis: xAxes,
  yAxis: yAxes,
  legend: [
    legendBox(['b-mx', 'b-10', 'b-30', 'b-50'], 291, 9, 8, 18, 1.5, 3),
    legendBox(['c-10', 'c-30', 'c-50'], 449, 6, 10, 24, 2.5, 3),
    legendBox(['c-bmo', 'c-mx'], 595, 6, 10, 18, 2.5, 3)
  ],
  series: series,
  graphic: { elements: texts }
};

const chart = echarts.init(document.getElementById('chart'), null, { renderer: 'canvas' });
chart.setOption(option);
</script>
</body>
</html>
